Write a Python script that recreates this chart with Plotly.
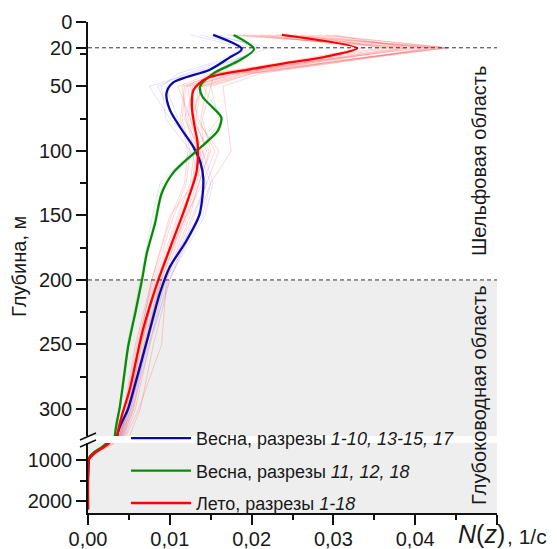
import plotly.graph_objects as go

# ---------------- data ----------------
# mean profiles: depth (m) and buoyancy frequency N(z) (1/s)
spring_a_depth = [10, 21, 28, 37, 47, 55, 68, 82, 97, 110, 122, 135, 150, 170, 190, 210, 245, 280, 300, 320, 600, 700, 800, 900, 1000, 2200]
spring_a_n = [0.0153, 0.0188, 0.0172, 0.0149, 0.0104, 0.0096, 0.0100, 0.0113, 0.0129, 0.0138, 0.0141, 0.0140, 0.0136, 0.0120, 0.0100, 0.0088, 0.0073, 0.0058, 0.0049, 0.0036, 0.0024, 0.0017, 0.0009, 0.0003, 0.0001, 0.0]

spring_b_depth = [10, 21, 29.5, 40, 50, 58, 66, 74, 84, 92, 102, 117, 133, 156, 179, 200, 225, 252, 275, 298, 320, 600, 700, 800, 900, 1000, 2200]
spring_b_n = [0.0178, 0.0203, 0.0186, 0.0153, 0.0137, 0.0140, 0.0152, 0.0163, 0.0159, 0.0147, 0.0129, 0.0104, 0.0090, 0.0082, 0.0072, 0.0066, 0.0058, 0.0049, 0.0044, 0.0039, 0.0033, 0.0022, 0.0016, 0.0008, 0.0003, 0.0001, 0.0]

summer_depth = [10, 20.4, 27, 32, 36.7, 43.6, 52.7, 65.6, 80, 94, 115, 140, 169, 200, 239, 285, 320, 600, 700, 800, 900, 1000, 2200]
summer_n = [0.0237, 0.0329, 0.0290, 0.0240, 0.0198, 0.0145, 0.0129, 0.0127, 0.0130, 0.0134, 0.0133, 0.0121, 0.0104, 0.0086, 0.0067, 0.0051, 0.0036, 0.0025, 0.0018, 0.0010, 0.0003, 0.0001, 0.0]

# individual sections (thin, faint lines)
section_depth = [10, 20, 30, 40, 50, 75, 100, 125, 150, 200, 250, 300, 330, 600, 800, 1000, 2200]
summer_sections = [
    [0.022, 0.044, 0.030, 0.0185, 0.0135, 0.0130, 0.0145, 0.0130, 0.0115, 0.0088, 0.0068, 0.0052, 0.0036, 0.0026, 0.0011, 0.0001, 0.0],
    [0.025, 0.043, 0.031, 0.0200, 0.0150, 0.0140, 0.0150, 0.0135, 0.0125, 0.0095, 0.0075, 0.0058, 0.0040, 0.0028, 0.0012, 0.0001, 0.0],
    [0.027, 0.041, 0.028, 0.0170, 0.0120, 0.0115, 0.0125, 0.0120, 0.0105, 0.0080, 0.0060, 0.0045, 0.0033, 0.0024, 0.0010, 0.0001, 0.0],
    [0.030, 0.039, 0.029, 0.0180, 0.0125, 0.0135, 0.0155, 0.0140, 0.0120, 0.0085, 0.0065, 0.0050, 0.0035, 0.0025, 0.0010, 0.0001, 0.0],
    [0.019, 0.037, 0.027, 0.0160, 0.0115, 0.0120, 0.0130, 0.0125, 0.0110, 0.0082, 0.0063, 0.0048, 0.0034, 0.0024, 0.0010, 0.0001, 0.0],
    [0.021, 0.034, 0.025, 0.0150, 0.0110, 0.0125, 0.0140, 0.0130, 0.0100, 0.0078, 0.0058, 0.0044, 0.0032, 0.0023, 0.0009, 0.0001, 0.0],
    [0.024, 0.042, 0.032, 0.0210, 0.0165, 0.0170, 0.0175, 0.0150, 0.0135, 0.0100, 0.0080, 0.0064, 0.0045, 0.0032, 0.0013, 0.0001, 0.0],
    [0.028, 0.044, 0.031, 0.0195, 0.0140, 0.0125, 0.0135, 0.0128, 0.0118, 0.0090, 0.0070, 0.0055, 0.0038, 0.0027, 0.0011, 0.0001, 0.0],
    [0.018, 0.040, 0.029, 0.0180, 0.0130, 0.0118, 0.0138, 0.0130, 0.0112, 0.0084, 0.0066, 0.0050, 0.0035, 0.0025, 0.0010, 0.0001, 0.0],
    [0.023, 0.038, 0.028, 0.0165, 0.0122, 0.0128, 0.0148, 0.0136, 0.0122, 0.0092, 0.0072, 0.0056, 0.0039, 0.0027, 0.0011, 0.0001, 0.0],
    [0.026, 0.036, 0.026, 0.0155, 0.0118, 0.0113, 0.0122, 0.0118, 0.0102, 0.0078, 0.0062, 0.0047, 0.0034, 0.0024, 0.0010, 0.0001, 0.0],
    [0.020, 0.042, 0.031, 0.0190, 0.0138, 0.0132, 0.0160, 0.0145, 0.0128, 0.0096, 0.0090, 0.0062, 0.0040, 0.0030, 0.0012, 0.0001, 0.0],
    [0.029, 0.044, 0.032, 0.0200, 0.0145, 0.0138, 0.0142, 0.0133, 0.0120, 0.0089, 0.0069, 0.0053, 0.0037, 0.0026, 0.0011, 0.0001, 0.0],
    [0.017, 0.039, 0.028, 0.0175, 0.0128, 0.0122, 0.0133, 0.0127, 0.0114, 0.0086, 0.0064, 0.0049, 0.0034, 0.0025, 0.0010, 0.0001, 0.0],
]
spring_a_sections = [
    [0.0137, 0.0200, 0.0165, 0.0120, 0.0085, 0.0105, 0.0135, 0.0150, 0.0140, 0.0095, 0.0072, 0.0052, 0.0037, 0.0025, 0.0009, 0.0001, 0.0],
    [0.0150, 0.0222, 0.0175, 0.0125, 0.0075, 0.0100, 0.0140, 0.0153, 0.0143, 0.0098, 0.0076, 0.0054, 0.0038, 0.0026, 0.0010, 0.0001, 0.0],
    [0.0125, 0.0190, 0.0160, 0.0110, 0.0090, 0.0095, 0.0125, 0.0140, 0.0135, 0.0090, 0.0070, 0.0048, 0.0035, 0.0024, 0.0009, 0.0001, 0.0],
    [0.0160, 0.0210, 0.0180, 0.0130, 0.0095, 0.0110, 0.0130, 0.0145, 0.0130, 0.0100, 0.0074, 0.0050, 0.0036, 0.0025, 0.0009, 0.0001, 0.0],
]
spring_b_sections = [
    [0.0175, 0.0200, 0.0180, 0.0150, 0.0140, 0.0165, 0.0135, 0.0092, 0.0082, 0.0066, 0.0050, 0.0039, 0.0033, 0.0022, 0.0008, 0.0001, 0.0],
    [0.0182, 0.0205, 0.0190, 0.0155, 0.0150, 0.0160, 0.0128, 0.0088, 0.0079, 0.0064, 0.0048, 0.0038, 0.0032, 0.0022, 0.0008, 0.0001, 0.0],
]

series_names = [
    "Весна, разрезы <i>1-10, 13-15, 17</i>",
    "Весна, разрезы <i>11, 12, 18</i>",
    "Лето, разрезы <i>1-18</i>",
]

x_tick_vals = [0.0, 0.01, 0.02, 0.03, 0.04, 0.05]
x_tick_text = ["0,00", "0,01", "0,02", "0,03", "0,04", ""]
x_minor_vals = [0.005, 0.015, 0.025, 0.035, 0.045]
y_top_ticks = [0, 20, 50, 100, 150, 200, 250, 300]
y_top_minor = [25, 75, 125, 175, 225, 275]
y_bottom_ticks = [1000, 2000]
y_bottom_minor = [1500]
mixed_layer_depth = 20
shelf_depth = 200

# ---------------- styling / geometry ----------------
FONT = "Liberation Sans, Arial, sans-serif"
TXT = "#1a1a1a"
OFF = 8                      # default page body margin
W, H = 557, 549
PLOT_L, PLOT_R, PLOT_T, PLOT_B = 88, 497, 22, 513   # plot area in window pixels
L, T = PLOT_L - OFF, PLOT_T - OFF
R, B = W - (PLOT_R - OFF), H - (PLOT_B - OFF)
PW, PH = W - L - R, H - T - B
TOP_RANGE = [321, 0]
BOT_RANGE = [2293, 585]
upper_dom = [(PLOT_B - 436) / PH, 1.0]
lower_dom = [0.0, (PLOT_B - 443) / PH]


def px(xp):
    return (xp - PLOT_L) / PW


def py(yp):
    return (PLOT_B - yp) / PH


fig = go.Figure()

faint_groups = [
    (spring_a_sections, "rgba(40,40,255,0.13)"),
    (summer_sections, "rgba(255,0,0,0.17)"),
    (spring_b_sections, "rgba(0,170,0,0.16)"),
]
for sections, col in faint_groups:
    for prof in sections:
        for yax in ("y", "y2"):
            fig.add_trace(go.Scatter(x=prof, y=section_depth, mode="lines", yaxis=yax,
                                     line=dict(color=col, width=1), showlegend=False,
                                     hoverinfo="skip"))

bold = [
    (spring_a_n, spring_a_depth, "#0a0aa8"),
    (spring_b_n, spring_b_depth, "#0a8a0a"),
    (summer_n, summer_depth, "#ff0000"),
]
for i, (xn, yd, col) in enumerate(bold):
    fig.add_trace(go.Scatter(x=xn, y=yd, mode="lines", yaxis="y", name=series_names[i],
                             line=dict(color=col, width=2.3, shape="spline", smoothing=0.8),
                             legendgroup=f"g{i}", showlegend=True))
    fig.add_trace(go.Scatter(x=xn, y=yd, mode="lines", yaxis="y2", name=series_names[i],
                             line=dict(color=col, width=2.3, shape="spline", smoothing=0.8),
                             legendgroup=f"g{i}", showlegend=False))

shapes = [
    # deep-water shading
    dict(type="rect", xref="x", yref="y", x0=0, x1=0.05, y0=shelf_depth, y1=TOP_RANGE[0],
         fillcolor="#eeeeee", line=dict(width=0), layer="below"),
    dict(type="rect", xref="x", yref="y2 domain", x0=0, x1=0.05, y0=0, y1=1,
         fillcolor="#eeeeee", line=dict(width=0), layer="below"),
    # dashed reference lines
    dict(type="line", xref="x", yref="y", x0=0, x1=0.05, y0=mixed_layer_depth, y1=mixed_layer_depth,
         line=dict(color="#333333", width=1, dash="4px,3px"), layer="above"),
    dict(type="line", xref="x", yref="y", x0=0, x1=0.05, y0=shelf_depth, y1=shelf_depth,
         line=dict(color="#333333", width=1, dash="4px,3px"), layer="above"),
    # axis break marks
    dict(type="line", xref="paper", yref="paper", x0=px(80), x1=px(96), y0=py(440), y1=py(433),
         line=dict(color="#111111", width=1.5)),
    dict(type="line", xref="paper", yref="paper", x0=px(80), x1=px(96), y0=py(447), y1=py(440),
         line=dict(color="#111111", width=1.5)),
]

annotations = [
    dict(text="Шельфовая область", xref="paper", yref="paper", x=px(479), y=py(161),
         textangle=-90, showarrow=False, font=dict(family=FONT, size=20, color=TXT),
         xanchor="center", yanchor="middle"),
    dict(text="Глубоководная область", xref="paper", yref="paper", x=px(479), y=py(395),
         textangle=-90, showarrow=False, font=dict(family=FONT, size=20, color=TXT),
         xanchor="center", yanchor="middle"),
    dict(text="Глубина, м", xref="paper", yref="paper", x=px(19), y=py(267),
         textangle=-90, showarrow=False, font=dict(family=FONT, size=20, color=TXT),
         xanchor="center", yanchor="middle", borderpad=0),
    dict(text="<i>N</i>(<i>z</i>)", xref="paper", yref="paper",
         x=px(457), y=py(534), showarrow=False, font=dict(family=FONT, size=25, color=TXT),
         xanchor="left", yanchor="middle", borderpad=0),
    dict(text=", 1/с", xref="paper", yref="paper",
         x=px(506), y=py(536), showarrow=False, font=dict(family=FONT, size=21, color=TXT),
         xanchor="left", yanchor="middle", borderpad=0),
]

axis_common = dict(showgrid=False, zeroline=False, showline=True, linecolor="#111111", linewidth=1.5,
                   ticks="outside", ticklen=10, tickwidth=1.5, tickcolor="#111111", automargin=False,
                   tickfont=dict(family=FONT, size=20, color=TXT))

fig.update_layout(
    width=W, height=H, margin=dict(l=L, r=R, t=T, b=B, autoexpand=False),
    paper_bgcolor="white", plot_bgcolor="rgba(0,0,0,0)",
    font=dict(family=FONT, color=TXT),
    xaxis=dict(range=[0, 0.05], domain=[0, 1], anchor="y2", tickmode="array",
               tickvals=x_tick_vals, ticktext=x_tick_text, ticklabelstandoff=-3,
               minor=dict(tickmode="array", tickvals=x_minor_vals, ticks="outside", ticklen=5,
                          tickwidth=1.5, tickcolor="#111111"),
               **axis_common),
    yaxis=dict(range=TOP_RANGE, domain=upper_dom, anchor="x", tickmode="array",
               tickvals=y_top_ticks,
               minor=dict(tickmode="array", tickvals=y_top_minor, ticks="outside", ticklen=6,
                          tickwidth=1.5, tickcolor="#111111"),
               **axis_common),
    yaxis2=dict(range=BOT_RANGE, domain=lower_dom, anchor="x", tickmode="array",
                tickvals=y_bottom_ticks,
                minor=dict(tickmode="array", tickvals=y_bottom_minor, ticks="outside", ticklen=6,
                           tickwidth=1.5, tickcolor="#111111"),
                **axis_common),
    showlegend=True,
    legend=dict(x=px(126), y=py(420), xanchor="left", yanchor="top", bgcolor="rgba(0,0,0,0)",
                font=dict(family=FONT, size=18, color=TXT), traceorder="grouped",
                tracegroupgap=6, itemwidth=60),
    shapes=shapes, annotations=annotations,
)

fig.write_html("out.html")
